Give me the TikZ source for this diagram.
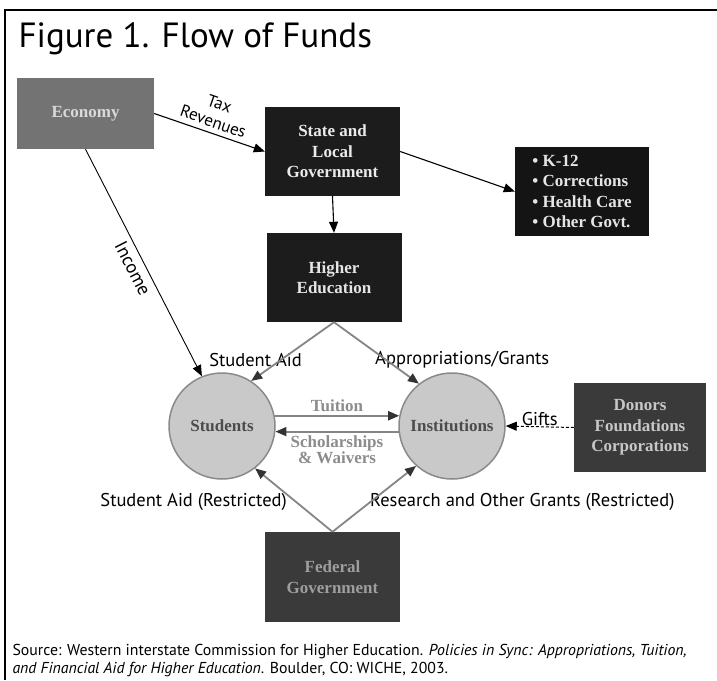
\documentclass[tikz,border=0pt]{standalone}
\usepackage{fontspec}
\setmainfont{Liberation Serif}
\setsansfont{PT Sans}
\usetikzlibrary{arrows.meta}
\definecolor{econgray}{HTML}{737373}
\definecolor{darkbox}{HTML}{1C1C1C}
\definecolor{midbox}{HTML}{3A3A3A}
\definecolor{discfill}{HTML}{C9C9C9}
\definecolor{discline}{HTML}{8A8A8A}
\definecolor{flowgray}{HTML}{858585}
\definecolor{txtgray}{HTML}{8C8C8C}

\begin{document}
\begin{tikzpicture}[x=1pt,y=-1pt,
  box/.style={rectangle, minimum width=135pt, minimum height=89pt, inner sep=2pt, align=center, font=\fontsize{17}{20.5}\selectfont\bfseries},
  disc/.style={circle, minimum size=106pt, inner sep=0pt, fill=discfill, draw=discline, line width=1.5pt, text=black!70, font=\fontsize{17}{20}\selectfont\bfseries},
  link/.style={draw=black, line width=1.1pt, -{Triangle[length=11pt,width=9pt]}},
  flow/.style={draw=flowgray, line width=1.8pt, -{Triangle[length=11pt,width=9pt,color=black!80]}},
  lbl/.style={font=\sffamily\fontsize{18.5}{19}\selectfont, inner sep=1pt},
  flowtxt/.style={text=txtgray, font=\fontsize{17}{16}\selectfont\bfseries, align=center}]
\useasboundingbox (0,0) rectangle (717,680);
\draw[line width=2pt] (5,680) -- (5,10) -- (717,10); %frame
\node[anchor=base west, font=\sffamily\fontsize{35}{35}\selectfont] (title) at (15,47) {Figure 1. Flow of Funds};

\node[box, fill=econgray, text=black!15, minimum width=137pt, minimum height=71pt] (econ) at (85.5,113.5) {Economy};
\node[box, fill=darkbox, text=white!92!black] (state) at (332.5,151.5) {State and\\Local\\Government};
\node[box, fill=black!92, text=white!90!black, minimum width=134pt, align=left] (govt) at (582,191.5) {• K-12\\• Corrections\\• Health Care\\• Other Govt.};
\node[box, fill=darkbox, text=white!90!black] (higher) at (334,277.5) {Higher\\Education};
\node[disc] (stud) at (222,426) {Students};
\node[disc] (inst) at (452,426) {Institutions};
\node[box, fill=midbox, text=black!22, minimum width=132pt] (donors) at (640,427.5) {Donors\\Foundations\\Corporations};
\node[box, fill=midbox, text=black!38, minimum height=90pt] (fed) at (332.5,577) {Federal\\Government};

\draw[link] (econ.east) -- node[lbl, above, sloped, align=center, inner sep=5pt, font=\sffamily\fontsize{17}{19}\selectfont] (taxlbl) {Tax\\Revenues} (state.west);
\draw[link] (state.east) -- (govt.west);
\draw[link] (state.south) -- (higher.north);
\draw[link, line width=0.9pt] (econ.south) -- node[lbl, below, sloped, inner sep=5pt] (inclbl) {Income} (stud.112);

\node[lbl, anchor=east] (aidlbl) at (303,360) {Student Aid};
\node[lbl, anchor=west] (applbl) at (374,360) {Appropriations/Grants};
\draw[flow] (higher.south) -- (stud.57);
\draw[flow] (higher.south) -- (inst.128);

\draw[flow] (stud.11) -- node[flowtxt, above] (tuit) {Tuition} (inst.169);
\draw[flow] (inst.186) -- node[flowtxt, below] (schol) {Scholarships\\\& Waivers} (stud.354);
\draw[black, line width=1pt, dash pattern=on 3pt off 2pt, -{Triangle[length=11pt,width=9pt]}] (donors.west) -- node[lbl, above] (gifts) {Gifts} (inst.east);

\node[lbl, anchor=east] (fedaid) at (288,502) {Student Aid (Restricted)};
\node[lbl, anchor=west] (fedres) at (369,502) {Research and Other Grants (Restricted)};
\draw[flow] (fed.north) -- (stud.308);
\draw[flow] (fed.north) -- (inst.228);

\node[anchor=north west, align=left, font=\sffamily\fontsize{15.8}{18}\selectfont] (src) at (9,641) {Source: Western interstate Commission for Higher Education. \textit{Policies in Sync: Appropriations, Tuition,}\\\textit{and Financial Aid for Higher Education}. Boulder, CO: WICHE, 2003.};
\end{tikzpicture}
\end{document}
